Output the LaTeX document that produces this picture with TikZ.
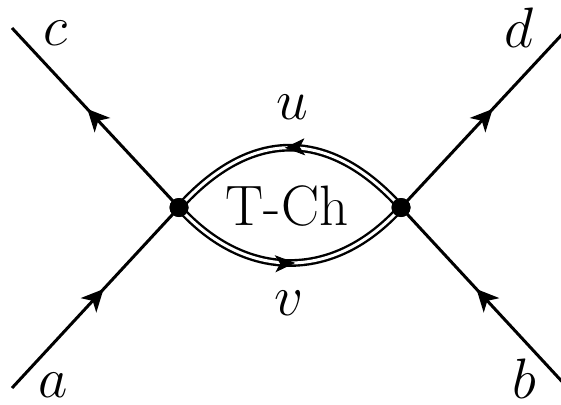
\documentclass[tikz,border=0pt]{standalone}
\usepackage{fix-cm}
\usetikzlibrary{arrows.meta,decorations.markings}
\begin{document}
\begin{tikzpicture}[x=0.5pt,y=-0.5pt,
  fline/.style={line width=1.5pt, postaction={decorate},
    decoration={markings, mark=at position 0.55 with {\arrow{Stealth[length=11pt,width=10.5pt,inset=3pt]}}}},
  dline/.style={double, line width=1.2pt, double distance=1.5pt},
  darrow/.style={postaction={decorate},
    decoration={markings, mark=at position #1 with {\arrow{Stealth[length=10pt,width=8.5pt,inset=2.5pt]}}}},
  vtx/.style={circle, fill=black, inner sep=0pt, minimum size=9.5pt},
  lbl/.style={inner sep=0pt, font=\fontsize{28.5}{33}\selectfont}]
\clip (0,0) rectangle (561,404);
\fill[white] (0,0) rectangle (561,404);
\coordinate (ea) at (12,388);
\coordinate (ec) at (12,28);
\coordinate (ed) at (568,28);
\coordinate (eb) at (568,388);
\node[vtx] (L) at (179,207.5) {};
\node[vtx] (R) at (401,207.5) {};
% external legs
\draw[fline] (ea) -- (L.center);
\draw[fline] (L.center) -- (ec);
\draw[fline] (R.center) -- (ed);
\draw[fline] (eb) -- (R.center);
% double arcs (angles are canvas angles)
\draw[dline] (R.center) to[out=132,in=48,looseness=1.24] (L.center);
\path[darrow=0.52] (R.center) to[out=132,in=48,looseness=1.24] (L.center);
\draw[dline] (L.center) to[out=-48,in=-132,looseness=1.15] (R.center);
\path[darrow=0.52] (L.center) to[out=-48,in=-132,looseness=1.15] (R.center);
\node[vtx] at (L) {};
\node[vtx] at (R) {};
% labels
\node[lbl] (tc) at (56,33) {$c$};
\node[lbl] (td) at (519,28) {$d$};
\node[lbl] (ta) at (53,385) {$a$};
\node[lbl] (tb) at (524,379) {$b$};
\node[lbl] (tu) at (292,107) {$u$};
\node[lbl] (tv) at (289,303) {$v$};
\node[lbl] (tch) at (287,206) {T-Ch};
\end{tikzpicture}
\end{document}
